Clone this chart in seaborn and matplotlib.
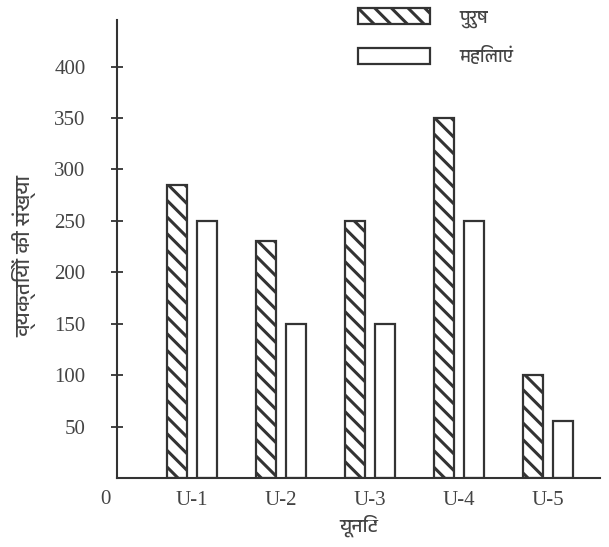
import pandas as pd
import matplotlib.pyplot as plt
import seaborn as sns
from matplotlib import font_manager

# डेटा
units = ['U-1', 'U-2', 'U-3', 'U-4', 'U-5']
purush = [285, 230, 250, 350, 100]
mahilaen = [250, 150, 150, 250, 55]
series_names = ['पुरुष', 'महिलाएं']
y_ticks = [50, 100, 150, 200, 250, 300, 350, 400]

df = pd.DataFrame({
    'यूनिट': units * 2,
    'संख्या': purush + mahilaen,
    'लिंग': [series_names[0]] * len(units) + [series_names[1]] * len(units),
})

sns.set_style('white')

# Devanagari font, if one is installed
deva = None
for f in font_manager.fontManager.ttflist:
    if any(k in f.name for k in ['Devanagari', 'Lohit', 'Mukta', 'Gargi', 'Kalimati', 'Mangal', 'Hind']):
        deva = f.name
        break
families = ['Liberation Serif'] + ([deva] if deva else []) + ['Noto Sans', 'DejaVu Sans']
plt.rcParams['font.family'] = families
plt.rcParams['hatch.linewidth'] = 2.2
plt.rcParams['hatch.color'] = '#333333'

fig = plt.figure(figsize=(6.09, 5.47), dpi=100)
ax = fig.add_axes([0.192, 0.126, 0.793, 0.837])

sns.barplot(data=df, x='यूनिट', y='संख्या', hue='लिंग', hue_order=series_names,
            palette=['white', 'white'], width=0.67, gap=0.33,
            edgecolor='#333333', linewidth=1.6, legend=False, ax=ax)

for p in ax.containers[0].patches:
    p.set_hatch('\\\\')

ax.set_xlim(-0.84, 4.58)
ax.set_ylim(0, 445)
ax.set_yticks(y_ticks)
ax.tick_params(axis='y', direction='inout', length=9, width=1.3, colors='#333333',
               labelsize=15, labelcolor='#444444', left=True, pad=18)
ax.tick_params(axis='x', length=0, labelsize=15, labelcolor='#444444', pad=9)

for side in ['top', 'right']:
    ax.spines[side].set_visible(False)
for side in ['left', 'bottom']:
    ax.spines[side].set_color('#333333')
    ax.spines[side].set_linewidth(1.5)

ax.text(-0.84 - 0.13, -12, '0', ha='center', va='top', fontsize=15, color='#444444')

ax.set_xlabel('यूनिट', fontsize=14, color='#444444', labelpad=4)
ax.set_ylabel('व्यक्तियों की संख्या', fontsize=15, color='#444444')
ax.yaxis.set_label_coords(-0.166, 0.485)

handles = [c.patches[0] for c in ax.containers]
leg = fig.legend(handles, series_names, loc='upper left', bbox_to_anchor=(358 / 609, 1 - 8 / 547),
                 frameon=False, handlelength=4.0, handleheight=1.0, labelspacing=1.1,
                 handletextpad=1.6, fontsize=13, borderpad=0, borderaxespad=0)
for t in leg.get_texts():
    t.set_color('#444444')

fig.savefig('out.png', dpi=100)
